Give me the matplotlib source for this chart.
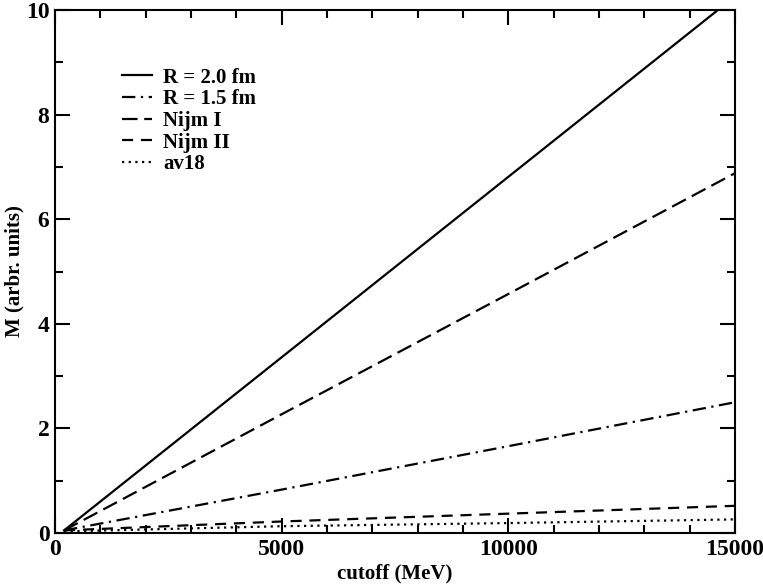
import numpy as np
import matplotlib
matplotlib.use("Agg")
import matplotlib.pyplot as plt
from matplotlib.ticker import MultipleLocator

plt.rcParams['font.family'] = ['Liberation Serif', 'DejaVu Serif']
plt.rcParams['font.weight'] = 'bold'

# cutoff values (MeV)
cutoff = [200, 5000, 10000, 15000]

# M (arbr. units) for each potential
m_r20 = [0.05, 3.36, 6.81, 10.26]
m_r15 = [0.05, 0.83, 1.66, 2.50]
m_nijm1 = [0.05, 2.27, 4.57, 6.88]
m_nijm2 = [0.05, 0.22, 0.37, 0.52]
m_av18 = [0.03, 0.13, 0.19, 0.26]

labels = ['R = 2.0 fm', 'R = 1.5 fm', 'Nijm I', 'Nijm II', 'av18']

fig = plt.figure(figsize=(7.63, 5.85), dpi=100)
ax = fig.add_axes([55/763, 1 - 533/585, 680/763, 523/585])

lw = 1.6
ax.plot(cutoff, m_r20, color='black', lw=lw, linestyle='-', label=labels[0])
ax.plot(cutoff, m_r15, color='black', lw=lw, linestyle=(0, (6, 2.5, 1, 2.5)), label=labels[1])
ax.plot(cutoff, m_nijm1, color='black', lw=lw, linestyle=(0, (7, 3)), label=labels[2])
ax.plot(cutoff, m_nijm2, color='black', lw=lw, linestyle=(0, (5, 3.5)), label=labels[3])
ax.plot(cutoff, m_av18, color='black', lw=lw, linestyle=(0, (1, 2)), label=labels[4])

ax.set_xlim(0, 15000)
ax.set_ylim(0, 10)
ax.xaxis.set_major_locator(MultipleLocator(5000))
ax.xaxis.set_minor_locator(MultipleLocator(1000))
ax.yaxis.set_major_locator(MultipleLocator(2))
ax.yaxis.set_minor_locator(MultipleLocator(1))
ax.tick_params(which='both', direction='in', top=True, right=True, width=1.5,
               labelsize=17)
ax.tick_params(which='major', length=11, pad=4)
ax.tick_params(which='minor', length=6)
for s in ax.spines.values():
    s.set_linewidth(1.5)
for t in ax.get_xticklabels() + ax.get_yticklabels():
    t.set_fontweight('bold')

ax.set_xlabel('cutoff (MeV)', fontsize=15, fontweight='bold', labelpad=3)
ax.set_ylabel('M (arbr. units)', fontsize=15, fontweight='bold', labelpad=1)

leg = ax.legend(loc='upper left', bbox_to_anchor=(0.098, 0.89), frameon=False,
                borderaxespad=0, borderpad=0, handlelength=1.45, handletextpad=0.55,
                labelspacing=0.08, prop={'size': 15, 'weight': 'bold'})

fig.savefig('out.png', dpi=100)
